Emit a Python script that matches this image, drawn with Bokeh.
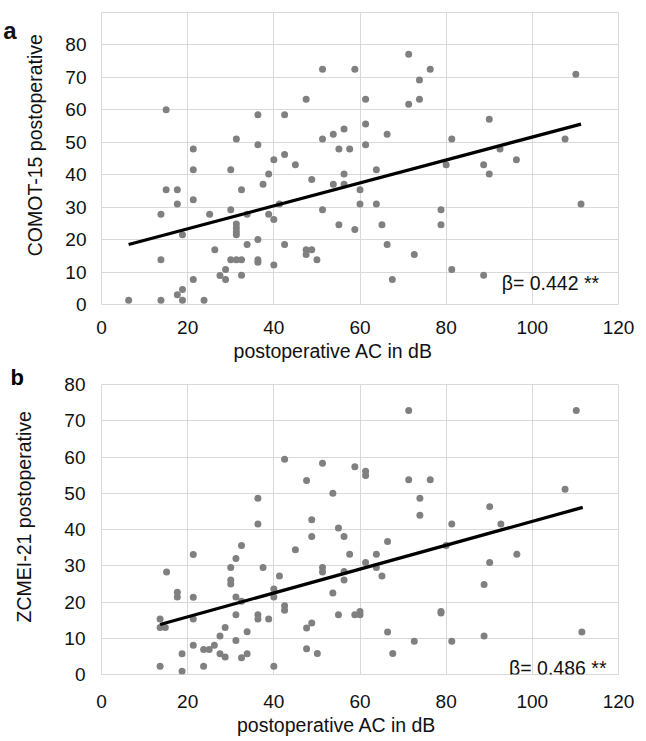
from bokeh.plotting import figure
from bokeh.layouts import column
from bokeh.models import FixedTicker, Label, Range1d, LinearAxis
from bokeh.embed import file_html
from bokeh.resources import INLINE

FONT = "Liberation Sans"

# ---------------- data ----------------
x_ticks = [0, 20, 40, 60, 80, 100, 120]
y_ticks = [0, 10, 20, 30, 40, 50, 60, 70, 80]

# panel a: COMOT-15 postoperative vs postoperative AC (dB)
a_x = [6.3, 13.8, 13.8, 13.8, 15.0, 15.0, 17.6, 17.6, 17.6, 18.8, 18.8, 18.8,
       21.3, 21.3, 21.3, 21.3, 23.8, 25.1, 26.3, 27.5, 28.8, 28.8, 30.0, 30.0,
       30.0, 31.3, 31.3, 31.3, 31.3, 31.3, 31.3, 32.5, 32.5, 32.5, 33.8, 33.8,
       36.3, 36.3, 36.3, 36.3, 36.3, 37.5, 38.8, 38.8, 40.0, 40.0, 40.0, 41.3,
       42.5, 42.5, 42.5, 45.0, 47.5, 47.5, 47.5, 48.8, 48.8, 50.0, 51.3, 51.3,
       51.3, 53.8, 55.1, 55.1, 53.8, 56.3, 56.3, 56.3, 57.6, 58.8, 58.8, 60.0,
       60.0, 61.3, 61.3, 61.3, 63.8, 63.8, 65.1, 66.3, 66.3, 67.5, 71.3, 71.3,
       72.6, 73.8, 73.8, 76.3, 78.8, 78.8, 80.0, 81.3, 81.3, 88.7, 88.7, 90.0,
       90.0, 92.5, 96.3, 107.6, 110.1, 111.3]
a_y = [1.3, 27.8, 13.8, 1.3, 60.0, 35.4, 35.4, 31.0, 3.0, 4.6, 1.3, 21.5,
       47.9, 41.5, 32.3, 7.7, 1.3, 27.8, 16.9, 8.9, 7.7, 10.8, 41.5, 29.2,
       13.8, 51.0, 24.8, 23.6, 22.4, 21.5, 13.8, 35.4, 13.8, 9.0, 27.8, 18.5,
       58.5, 49.2, 20.0, 13.8, 13.0, 37.1, 40.2, 27.8, 44.6, 26.2, 12.2, 31.0,
       58.5, 46.2, 18.5, 43.1, 63.3, 16.9, 15.4, 38.5, 16.9, 13.8, 72.5, 51.0,
       29.2, 52.5, 47.9, 24.6, 37.1, 54.1, 40.2, 37.1, 47.9, 72.5, 23.1, 35.4,
       31.0, 63.3, 55.6, 49.2, 41.5, 31.0, 24.6, 52.5, 18.5, 7.7, 77.1, 61.7,
       15.4, 69.2, 63.3, 72.5, 29.2, 24.6, 43.1, 51.0, 10.8, 43.1, 9.0, 57.1,
       40.2, 47.9, 44.6, 51.0, 71.0, 31.0]
a_trend_x = [6.3, 111.3]
a_trend_y = [18.5, 55.6]
a_beta = "β= 0.442 **"

# panel b: ZCMEI-21 postoperative vs postoperative AC (dB)
b_x = [13.6, 13.6, 13.6, 14.8, 15.1, 17.6, 17.6, 18.7, 18.7, 21.3, 21.3, 21.3,
       21.3, 23.7, 23.7, 25.0, 26.2, 27.5, 27.5, 28.7, 28.7, 30.0, 30.0, 30.0,
       31.2, 31.2, 31.2, 31.2, 32.5, 32.5, 32.5, 33.8, 33.8, 36.3, 36.3, 36.3,
       36.3, 37.5, 38.8, 40.0, 40.0, 40.0, 41.3, 42.5, 42.5, 42.5, 45.0, 47.6,
       47.6, 47.6, 48.8, 48.8, 48.8, 50.1, 51.3, 51.3, 51.3, 53.7, 53.7, 55.0,
       55.0, 56.3, 56.3, 56.3, 57.6, 58.8, 58.8, 60.0, 60.0, 61.3, 61.3, 61.3,
       63.8, 63.8, 65.1, 66.4, 66.4, 67.6, 71.3, 71.3, 72.6, 73.9, 73.9, 76.3,
       78.8, 78.8, 80.0, 81.3, 81.3, 88.8, 88.8, 90.1, 90.1, 92.7, 96.4, 107.6,
       110.2, 111.5]
b_y = [2.3, 15.3, 13.0, 13.0, 28.3, 22.7, 21.4, 5.7, 0.9, 33.1, 21.3, 15.3,
       8.1, 2.3, 6.9, 6.9, 8.1, 10.6, 5.7, 13.0, 4.8, 29.5, 26.1, 25.0,
       32.0, 21.4, 16.5, 9.4, 35.6, 20.2, 4.6, 11.8, 5.7, 48.6, 41.5, 16.5,
       15.3, 29.5, 15.3, 2.3, 23.6, 21.4, 27.2, 59.4, 19.0, 17.7, 34.4, 53.5,
       12.8, 7.1, 42.7, 38.1, 14.2, 5.8, 58.3, 29.5, 28.3, 50.0, 22.5, 40.4,
       16.5, 38.1, 28.4, 26.1, 33.2, 57.3, 16.5, 17.4, 16.5, 56.1, 54.9, 30.9,
       33.2, 29.5, 27.2, 36.7, 11.7, 5.8, 72.8, 53.7, 9.2, 48.6, 43.9, 53.7,
       17.4, 17.0, 35.6, 41.5, 9.2, 24.8, 10.6, 46.3, 30.9, 41.5, 33.2, 51.1,
       72.8, 11.7]
b_trend_x = [13.6, 111.7]
b_trend_y = [13.8, 46.1]
b_beta = "β= 0.486 **"

x_title = "postoperative AC in dB"
a_ytitle = "COMOT-15 postoperative"
b_ytitle = "ZCMEI-21 postoperative"

GRID = "#d9d9d9"
DOT = "#808080"
TXT = "#111111"
TICK_FS = "19px"
TITLE_FS = "19.5px"


def text_axis(p, side, value, text, standoff, orientation="horizontal",
              size=TITLE_FS, style="normal"):
    """An axis with a single labelled position, used to place a title."""
    ax = LinearAxis(ticker=FixedTicker(ticks=[value]),
                    major_label_overrides={value: text},
                    axis_line_color=None, major_tick_line_color=None,
                    minor_tick_line_color=None, major_tick_out=0,
                    major_tick_in=0, minor_tick_out=0, minor_tick_in=0,
                    major_label_standoff=standoff,
                    major_label_text_font=FONT,
                    major_label_text_font_size=size,
                    major_label_text_font_style=style,
                    major_label_text_color=TXT,
                    major_label_orientation=orientation)
    p.add_layout(ax, side)


def panel(xs, ys, tx, ty, beta, beta_pos, ytitle, y_end, height, borders,
          xstand, ystand, xtitle_at, xtitle_stand, ytitle_at, ytitle_stand):
    top, bottom, left, right = borders
    p = figure(width=640, height=height, output_backend="svg",
               toolbar_location=None, x_range=Range1d(0, 120),
               y_range=Range1d(0, y_end),
               min_border_top=top, min_border_bottom=bottom,
               min_border_left=left, min_border_right=right,
               background_fill_color="white", border_fill_color="white",
               outline_line_color=GRID, outline_line_width=1)
    p.xaxis.ticker = FixedTicker(ticks=x_ticks)
    p.yaxis.ticker = FixedTicker(ticks=y_ticks)
    for ax in (p.xaxis[0], p.yaxis[0]):
        ax.axis_line_color = None
        ax.major_tick_line_color = None
        ax.minor_tick_line_color = None
        ax.major_tick_out = 0
        ax.major_tick_in = 0
        ax.major_label_text_font = FONT
        ax.major_label_text_font_size = TICK_FS
        ax.major_label_text_color = TXT
    p.xaxis.major_label_standoff = xstand
    p.yaxis.major_label_standoff = ystand
    p.xgrid.grid_line_color = GRID
    p.ygrid.grid_line_color = GRID

    p.scatter(xs, ys, size=7, color=DOT, line_color=None)
    p.line(tx, ty, line_color="black", line_width=3.3)

    p.add_layout(Label(x=beta_pos[0], y=beta_pos[1], text=beta,
                       text_font=FONT, text_font_size=TITLE_FS,
                       text_color=TXT, text_baseline="alphabetic",
                       text_align="left"))
    text_axis(p, "below", xtitle_at, x_title, xtitle_stand)
    text_axis(p, "left", ytitle_at, ytitle, ytitle_stand,
              orientation="vertical")
    return p


pa = panel(a_x, a_y, a_trend_x, a_trend_y, a_beta, (92.9, 6.7), a_ytitle, 90,
           364, (12, 59, 99, 20), 16, 15, 53.8, 3, 49.1, 16)
# panel letter "a"
text_axis(pa, "left", 84.6, "a", 5, size="24px", style="bold")

pb = panel(b_x, b_y, b_trend_x, b_trend_y, b_beta, (94.6, 1.8), b_ytitle, 80,
           374, (20, 63, 99, 22), 20, 16, 54.6, 3, 43.5, 27)
# panel letter "b" as the figure title, pulled to the left edge
pb.title.text = "b"
pb.title.text_font = FONT
pb.title.text_font_size = "22px"
pb.title.text_font_style = "bold"
pb.title.text_color = "black"
pb.title.align = "left"
pb.title.vertical_align = "bottom"
pb.title.offset = -91
pb.title.standoff = -10

layout = column(pa, pb, spacing=0)
open("out.html", "w").write(file_html(layout, INLINE))
